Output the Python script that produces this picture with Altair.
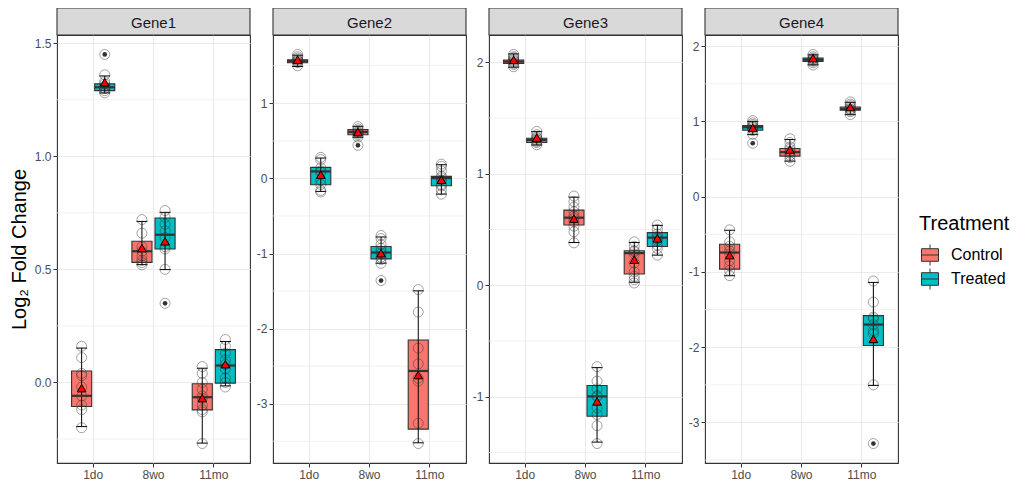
import altair as alt
import pandas as pd
import numpy as np

GENES = ["Gene1", "Gene2", "Gene3", "Gene4"]
AGES = ["1do", "8wo", "11mo"]
TREATMENTS = ["Control", "Treated"]
COLORS = ["#F8766D", "#00BFC4"]

# groups ordered gene -> age -> treatment
Q1 = [-0.106, 1.290, 0.531, 0.590, -0.121, -0.003,
      1.540, -0.084, 0.582, -1.071, -3.338, -0.097,
      1.990, 1.280, 0.540, -1.175, 0.101, 0.347,
      -0.963, 0.883, 0.539, 1.797, 1.148, -1.977]
MEDIAN = [-0.059, 1.305, 0.580, 0.653, -0.065, 0.075,
          1.560, 0.093, 0.617, -0.987, -2.564, 0.004,
          2.006, 1.303, 0.606, -0.997, 0.288, 0.427,
          -0.742, 0.923, 0.592, 1.819, 1.166, -1.699]
Q3 = [0.051, 1.320, 0.624, 0.727, -0.006, 0.145,
      1.580, 0.147, 0.649, -0.907, -2.151, 0.027,
      2.020, 1.318, 0.674, -0.899, 0.309, 0.472,
      -0.632, 0.944, 0.640, 1.841, 1.192, -1.580]
WHISK_LO = [-0.195, 1.280, 0.521, 0.499, -0.268, -0.015,
            1.490, -0.173, 0.547, -1.129, -3.520, -0.209,
            1.956, 1.258, 0.383, -1.407, 0.027, 0.270,
            -1.050, 0.825, 0.473, 1.752, 1.090, -2.507]
WHISK_HI = [0.152, 1.355, 0.712, 0.752, 0.063, 0.181,
            1.640, 0.271, 0.693, -0.780, -1.497, 0.182,
            2.075, 1.378, 0.790, -0.739, 0.383, 0.537,
            -0.446, 1.000, 0.759, 1.885, 1.254, -1.139]
MEANS = [-0.025, 1.327, 0.594, 0.624, -0.069, 0.081,
         1.580, 0.049, 0.617, -0.996, -2.618, -0.018,
         2.021, 1.324, 0.597, -1.042, 0.229, 0.421,
         -0.777, 0.914, 0.627, 1.841, 1.192, -1.890]
POINTS = [
    [0.16, 0.11, 0.04, 0.03, -0.02, -0.06, -0.10, -0.12, -0.20],
    [1.45, 1.36, 1.33, 1.32, 1.31, 1.30, 1.30, 1.29, 1.28],
    [0.72, 0.66, 0.60, 0.58, 0.56, 0.54, 0.53, 0.52],
    [0.76, 0.73, 0.70, 0.67, 0.64, 0.60, 0.59, 0.50, 0.35],
    [0.07, 0.04, 0.00, -0.03, -0.06, -0.07, -0.10, -0.12, -0.13, -0.27],
    [0.19, 0.16, 0.13, 0.10, 0.08, 0.06, 0.02, 0.00, -0.02],
    [1.65, 1.62, 1.60, 1.58, 1.57, 1.56, 1.55, 1.54, 1.50],
    [0.28, 0.25, 0.14, 0.10, 0.08, -0.02, -0.08, -0.16, -0.18],
    [0.69, 0.66, 0.64, 0.62, 0.61, 0.60, 0.58, 0.55, 0.44],
    [-0.76, -0.80, -0.88, -0.93, -0.97, -1.00, -1.05, -1.08, -1.13, -1.36],
    [-1.48, -1.78, -2.26, -2.47, -2.66, -2.70, -3.26, -3.53],
    [0.19, 0.16, 0.10, 0.03, 0.01, -0.02, -0.08, -0.10, -0.15, -0.21],
    [2.07, 2.05, 2.04, 2.03, 2.02, 2.01, 2.00, 1.99, 1.98, 1.96],
    [1.38, 1.35, 1.33, 1.32, 1.31, 1.30, 1.29, 1.28, 1.26],
    [0.80, 0.75, 0.70, 0.66, 0.62, 0.60, 0.57, 0.53, 0.48, 0.38],
    [-0.73, -0.86, -0.93, -0.99, -1.00, -1.10, -1.16, -1.26, -1.42],
    [0.39, 0.35, 0.31, 0.30, 0.28, 0.20, 0.12, 0.08, 0.05, 0.02],
    [0.54, 0.50, 0.46, 0.44, 0.42, 0.40, 0.36, 0.33, 0.27],
    [-0.44, -0.60, -0.66, -0.72, -0.76, -0.85, -0.92, -0.98, -1.05],
    [1.01, 0.98, 0.96, 0.94, 0.93, 0.92, 0.90, 0.88, 0.83, 0.71],
    [0.77, 0.72, 0.66, 0.63, 0.60, 0.58, 0.55, 0.52, 0.47],
    [1.89, 1.86, 1.84, 1.83, 1.82, 1.81, 1.80, 1.78, 1.75],
    [1.26, 1.23, 1.21, 1.19, 1.17, 1.16, 1.15, 1.13, 1.09],
    [-1.12, -1.40, -1.60, -1.62, -1.70, -1.78, -1.82, -2.50, -3.28],
]
MAJOR_TICKS = [
    [0.0, 0.5, 1.0, 1.5],
    [-3, -2, -1, 0, 1],
    [-1, 0, 1, 2],
    [-3, -2, -1, 0, 1, 2],
]
MINOR_TICKS = [
    [-0.25, 0.25, 0.75, 1.25],
    [-3.5, -2.5, -1.5, -0.5, 0.5, 1.5],
    [-1.5, -0.5, 0.5, 1.5],
    [-3.5, -2.5, -1.5, -0.5, 0.5, 1.5],
]
LABEL_FORMATS = [".1f", "d", "d", "d"]

FONT = "Liberation Sans"
W, H = 193, 428
STRIP_H = 27

# ---- build tables ----
rows, prow = [], []
k = 0
for g in GENES:
    for a in AGES:
        for t in TREATMENTS:
            rows.append(dict(gene=g, age=a, treat=t, q1=Q1[k], med=MEDIAN[k], q3=Q3[k],
                             lo=WHISK_LO[k], hi=WHISK_HI[k], mean=MEANS[k]))
            for v in POINTS[k]:
                prow.append(dict(gene=g, age=a, treat=t, value=v,
                                 outlier=bool(v > WHISK_HI[k] + 0.03 or v < WHISK_LO[k] - 0.03)))
            k += 1
stats = pd.DataFrame(rows)
pts = pd.DataFrame(prow)

legend = alt.Legend(
    title="Treatment", orient="none", legendX=862, legendY=179,
    titleFontSize=20, titleFont=FONT, titleFontWeight="normal", titleColor="black",
    labelFontSize=16, labelFont=FONT, labelColor="black",
    symbolType="M-0.81,-0.6H0.81V0.6H-0.81Z M-0.81,0H0.81 M0,-0.6V-1 M0,0.6V1",
    symbolSize=441, symbolStrokeColor="#333333", symbolStrokeWidth=1,
    rowPadding=-3, labelOffset=10, titlePadding=10,
)


def panel(gi, gene):
    s = stats[stats.gene == gene]
    p = pts[pts.gene == gene]
    vals = list(p.value) + list(s["mean"])
    lo, hi = min(vals), max(vals)
    pad = (hi - lo) * 0.05
    ysc = alt.Scale(domain=[lo - pad, hi + pad], nice=False, zero=False)
    fmt = LABEL_FORMATS[gi]
    yax_kwargs = dict(values=MAJOR_TICKS[gi], grid=True,
                      labelExpr=f"datum.value < 0 ? '-' + format(-datum.value, '{fmt}') : format(datum.value, '{fmt}')")
    if gi == 0:
        yax = alt.Axis(title="Log₂ Fold Change", titlePadding=5, **yax_kwargs)
    else:
        yax = alt.Axis(title=None, **yax_kwargs)
    xenc = alt.X("age:N", sort=AGES, title=None,
                 scale=alt.Scale(paddingInner=0, paddingOuter=0.1),
                 axis=alt.Axis(grid=True, labelAngle=0))
    xoff = alt.XOffset("treat:N", sort=TREATMENTS,
                       scale=alt.Scale(paddingInner=0.13, paddingOuter=0.37))

    grid = alt.Chart(pd.DataFrame({"v": MINOR_TICKS[gi]})).mark_rule(
        color="#EBEBEB", strokeWidth=0.7).encode(
        y=alt.Y("v:Q", scale=ysc, axis=yax), x=alt.value(0), x2=alt.value(W))

    bs = alt.Chart(s)
    box = bs.mark_bar(stroke="#333333", strokeWidth=1.1).encode(
        x=xenc, xOffset=xoff,
        y=alt.Y("q1:Q", scale=ysc, axis=yax), y2="q3:Q",
        fill=alt.Fill("treat:N", scale=alt.Scale(domain=TREATMENTS, range=COLORS), legend=legend))
    med = bs.mark_tick(color="#333333", thickness=2.2, size=20, opacity=1).encode(
        x=xenc, xOffset=xoff, y=alt.Y("med:Q", scale=ysc, axis=yax))
    whisk = bs.mark_rule(color="black", strokeWidth=1).encode(
        x=xenc, xOffset=xoff, y=alt.Y("lo:Q", scale=ysc, axis=yax), y2="hi:Q")
    cap_lo = bs.mark_tick(color="black", thickness=1, size=11, opacity=1).encode(
        x=xenc, xOffset=xoff, y=alt.Y("lo:Q", scale=ysc, axis=yax))
    cap_hi = bs.mark_tick(color="black", thickness=1, size=11, opacity=1).encode(
        x=xenc, xOffset=xoff, y=alt.Y("hi:Q", scale=ysc, axis=yax))

    pc = alt.Chart(p)
    outl = pc.transform_filter("datum.outlier").mark_circle(color="#333333", size=22, opacity=1).encode(
        x=xenc, xOffset=xoff, y=alt.Y("value:Q", scale=ysc, axis=yax))
    points = pc.mark_point(shape="circle", filled=False, stroke="#333333", strokeWidth=0.8,
                           strokeOpacity=0.8, size=100).encode(
        x=xenc, xOffset=xoff, y=alt.Y("value:Q", scale=ysc, axis=yax))
    means = bs.mark_point(shape="triangle-up", filled=True, fill="red", stroke="black",
                          strokeWidth=1, size=75, opacity=1).encode(
        x=xenc, xOffset=xoff, y=alt.Y("mean:Q", scale=ysc, axis=yax))

    sd = alt.Chart(pd.DataFrame({"g": [gene]}))
    strip = sd.mark_rect(fill="#D9D9D9", stroke="#333333", strokeWidth=1.1).encode(
        x=alt.value(0), x2=alt.value(W), y=alt.value(-STRIP_H), y2=alt.value(0))
    strip_txt = sd.mark_text(font=FONT, fontSize=15, color="#1A1A1A", baseline="middle").encode(
        x=alt.value(W / 2), y=alt.value(-STRIP_H / 2 + 1), text="g:N")

    return alt.layer(grid, box, whisk, cap_lo, cap_hi, med, outl, points, means,
                     strip, strip_txt).properties(width=W, height=H)


chart = alt.hconcat(*[panel(i, g) for i, g in enumerate(GENES)], spacing=3).properties(
    padding={"left": 0, "top": -2, "right": 5, "bottom": 0},
    background="white",
).configure_view(
    stroke="#333333", strokeWidth=1.1
).configure_axis(
    labelFont=FONT, labelFontSize=12, labelColor="#4D4D4D", labelPadding=2,
    tickColor="#333333", tickSize=4, tickWidth=1, domain=False,
    gridColor="#EBEBEB", gridWidth=1.1,
    titleFont=FONT, titleFontSize=20, titleFontWeight="normal", titleColor="black",
)

chart.save("out.html", embed_options={"renderer": "svg", "actions": False})
